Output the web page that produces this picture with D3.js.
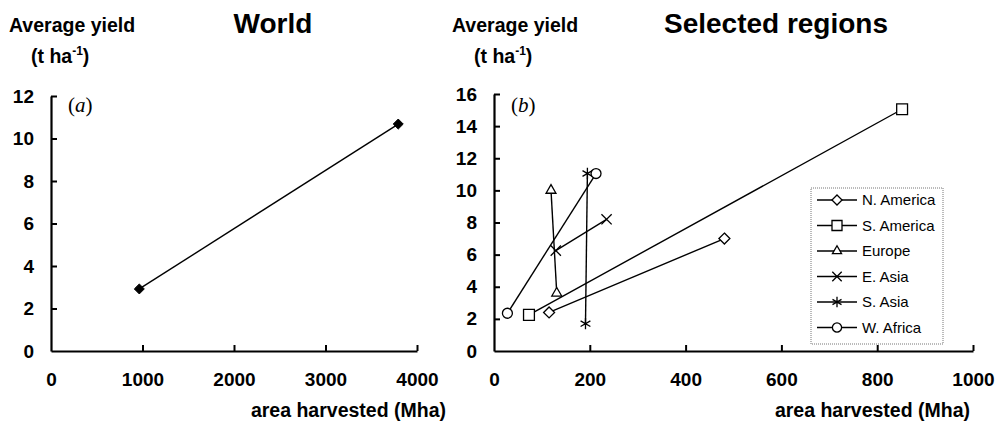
<!DOCTYPE html>
<html>
<head>
<meta charset="utf-8">
<script src="https://cdn.jsdelivr.net/npm/d3@7"></script>
<style>
  body { margin: 0; background: #fff; }
  svg text { font-family: "Liberation Sans", Arial, sans-serif; }
</style>
</head>
<body>
<svg id="chart" width="995" height="427"></svg>
<script>
// World panel data
const worldArea = [965, 3795];
const worldYield = [2.92, 10.68];

// Regions panel data (start, end)
const regionNames = ["N. America", "S. America", "Europe", "E. Asia", "S. Asia", "W. Africa"];
const regionArea = [[115, 481], [73, 852], [119, 131], [235, 129], [195, 191], [28, 213]];
const regionYield = [[2.4, 7.0], [2.25, 15.05], [10.0, 3.6], [8.2, 6.25], [11.05, 1.7], [2.35, 11.05]];
const regionSymbols = [d3.symbolDiamond2, d3.symbolSquare2, d3.symbolTriangle2, d3.symbolTimes, d3.symbolAsterisk, d3.symbolCircle];
const symbolSizes = [77, 150, 70, 70, 90, 78];

// Tick values
const worldXTicks = [0, 1000, 2000, 3000, 4000];
const worldYTicks = [0, 2, 4, 6, 8, 10, 12];
const regionXTicks = [0, 200, 400, 600, 800, 1000];
const regionYTicks = [0, 2, 4, 6, 8, 10, 12, 14, 16];

const svg = d3.select("#chart");

// Draw the axes for one panel
function drawAxes(x, y, xTicks, yTicks) {
  const bottom = y.range()[0];
  const left = x.range()[0];

  const xAxis = svg.append("g")
    .attr("transform", "translate(0," + bottom + ")")
    .call(d3.axisBottom(x).tickValues(xTicks).tickFormat(d3.format("d"))
      .tickSizeInner(-6).tickSizeOuter(0).tickPadding(22));
  xAxis.selectAll(".tick").filter(d => d === 0).select("line").remove();

  const yAxis = svg.append("g")
    .attr("transform", "translate(" + left + ",0)")
    .call(d3.axisLeft(y).tickValues(yTicks).tickFormat(d3.format("d"))
      .tickSizeInner(-6).tickSizeOuter(0).tickPadding(17));
  yAxis.selectAll(".tick").filter(d => d === 0).select("line").remove();

  [xAxis, yAxis].forEach(g => {
    g.select(".domain").attr("stroke", "#000").attr("stroke-width", 2.2);
    g.selectAll(".tick line").attr("stroke", "#000").attr("stroke-width", 2);
    g.selectAll(".tick text")
      .attr("fill", "#000")
      .style("font-size", "19px")
      .style("font-weight", "bold");
  });
}

// Header texts for one panel
function drawHeader(axisX, titleX, title, tag) {
  svg.append("text")
    .attr("x", axisX - 42).attr("y", 32)
    .style("font-size", "19.5px").style("font-weight", "bold")
    .text("Average yield");

  const unit = svg.append("text")
    .attr("x", axisX - 20).attr("y", 63)
    .style("font-size", "19.5px").style("font-weight", "bold");
  unit.append("tspan").text("(t ha");
  unit.append("tspan").attr("dy", -8).style("font-size", "12px").text("-1");
  unit.append("tspan").attr("dy", 8).text(")");

  svg.append("text")
    .attr("x", titleX).attr("y", 33)
    .attr("text-anchor", "middle")
    .style("font-size", "28px").style("font-weight", "bold")
    .text(title);

  svg.append("text")
    .attr("x", axisX + 17).attr("y", 112)
    .style("font-family", "'Liberation Serif', 'Times New Roman', serif")
    .style("font-size", "21px")
    .text("(")
    .append("tspan").style("font-style", "italic").text(tag)
    .append("tspan").style("font-style", "normal").text(")");
}

function drawXLabel(endX) {
  svg.append("text")
    .attr("x", endX).attr("y", 417)
    .attr("text-anchor", "end")
    .style("font-size", "19.5px").style("font-weight", "bold")
    .text("area harvested (Mha)");
}

// ---------- Panel (a): World ----------
const xA = d3.scaleLinear().domain([0, 4000]).range([51, 417]);
const yA = d3.scaleLinear().domain([0, 12]).range([351, 96]);

drawHeader(51, 273, "World", "a");
drawAxes(xA, yA, worldXTicks, worldYTicks);
drawXLabel(446);

const worldPts = worldArea.map((d, i) => [d, worldYield[i]]);
svg.append("path")
  .datum(worldPts)
  .attr("fill", "none")
  .attr("stroke", "#000")
  .attr("stroke-width", 1.4)
  .attr("d", d3.line().x(d => xA(d[0])).y(d => yA(d[1])));

svg.selectAll(".world-pt")
  .data(worldPts)
  .enter()
  .append("path")
  .attr("class", "world-pt")
  .attr("transform", d => "translate(" + xA(d[0]) + "," + yA(d[1]) + ")")
  .attr("d", d3.symbol().type(d3.symbolDiamond2).size(64))
  .attr("fill", "#000")
  .attr("stroke", "#000");

// ---------- Panel (b): Selected regions ----------
const xB = d3.scaleLinear().domain([0, 1000]).range([494, 973]);
const yB = d3.scaleLinear().domain([0, 16]).range([351, 94]);

drawHeader(494, 776, "Selected regions", "b");
drawAxes(xB, yB, regionXTicks, regionYTicks);
drawXLabel(970);

const line = d3.line().x(d => xB(d[0])).y(d => yB(d[1]));

regionNames.forEach((name, i) => {
  const pts = regionArea[i].map((a, j) => [a, regionYield[i][j]]);
  svg.append("path")
    .datum(pts)
    .attr("fill", "none")
    .attr("stroke", "#000")
    .attr("stroke-width", 1.4)
    .attr("d", line);
});

regionNames.forEach((name, i) => {
  const pts = regionArea[i].map((a, j) => [a, regionYield[i][j]]);
  svg.selectAll(".pt-" + i)
    .data(pts)
    .enter()
    .append("path")
    .attr("class", "pt-" + i)
    .attr("transform", d => "translate(" + xB(d[0]) + "," + yB(d[1]) + ")")
    .attr("d", d3.symbol().type(regionSymbols[i]).size(symbolSizes[i]))
    .attr("fill", "#fff")
    .attr("stroke", "#000")
    .attr("stroke-width", 1.3);
});

// Legend
const legend = svg.append("g").attr("transform", "translate(811,188)");
legend.append("rect")
  .attr("width", 132).attr("height", 156)
  .attr("fill", "#fff")
  .attr("stroke", "#777")
  .attr("stroke-width", 1)
  .attr("stroke-dasharray", "1,1");

const entries = legend.selectAll(".legend-entry")
  .data(regionNames)
  .enter()
  .append("g")
  .attr("class", "legend-entry")
  .attr("transform", (d, i) => "translate(0," + (12 + i * 25.5) + ")");

entries.append("line")
  .attr("x1", 6).attr("x2", 46)
  .attr("stroke", "#000").attr("stroke-width", 1.3);

entries.append("path")
  .attr("transform", "translate(26,0)")
  .attr("d", (d, i) => d3.symbol().type(regionSymbols[i]).size(symbolSizes[i] * 0.85)())
  .attr("fill", "#fff")
  .attr("stroke", "#000")
  .attr("stroke-width", 1.3);

entries.append("text")
  .attr("x", 51).attr("y", 5)
  .style("font-size", "15px")
  .text(d => d);
</script>
</body>
</html>
